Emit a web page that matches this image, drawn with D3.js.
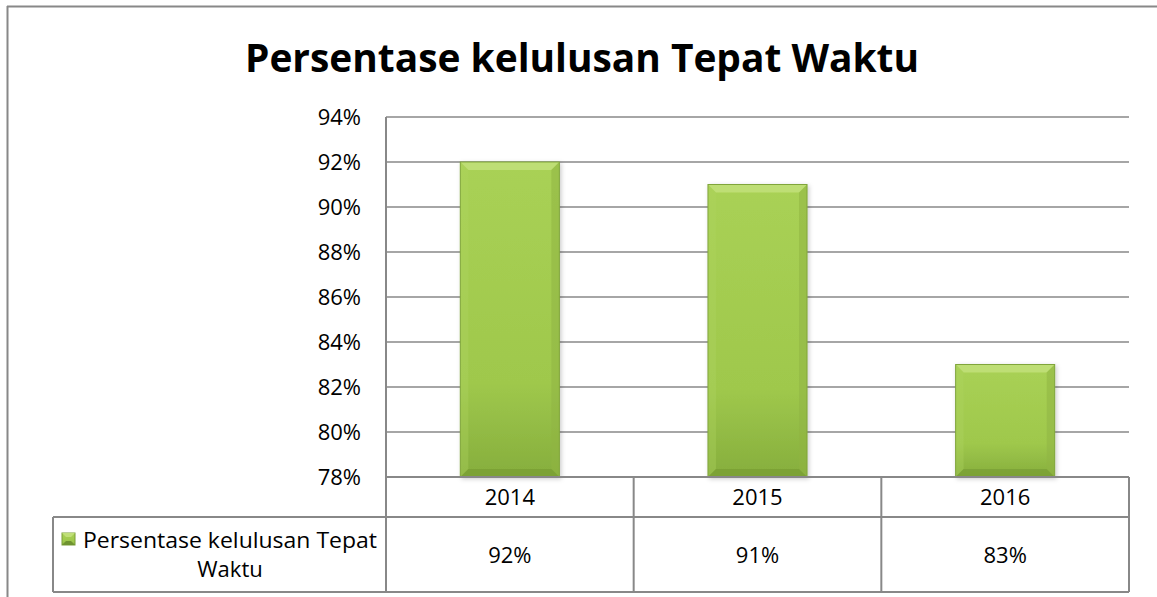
<!DOCTYPE html>
<html>
<head>
<meta charset="utf-8">
<script src="https://cdn.jsdelivr.net/npm/d3@7"></script>
<style>
  body { margin: 0; background: #fff; }
  text { font-family: "Open Sans", "Liberation Sans", sans-serif; fill: #000; }
</style>
</head>
<body>
<div class="chart-wrapper"></div>
<script>
let years = ["2014", "2015", "2016"];
let values = [0.92, 0.91, 0.83];
let legendLines = ["Persentase kelulusan Tepat", "Waktu"];
let yTicks = [0.78, 0.80, 0.82, 0.84, 0.86, 0.88, 0.90, 0.92, 0.94];
let chartTitle = "Persentase kelulusan Tepat Waktu";

let w = 1157;
let h = 597;
let plotLeft = 386;
let plotRight = 1129;
let plotTop = 117;
let plotBottom = 477;
let rowMid = 517;
let tableBottom = 592;
let legendLeft = 53;
let lineColor = "#888888";
let fontSize = 22;

let viz = d3.select(".chart-wrapper")
          .append("svg")
          .attr("width", w)
          .attr("height", h)
;

let defs = viz.append("defs");
// bar face gradient
let grad = defs.append("linearGradient").attr("id", "barFace")
               .attr("x1", 0).attr("y1", 0).attr("x2", 0).attr("y2", 1);
grad.append("stop").attr("offset", "0%").attr("stop-color", "#a9d155");
grad.append("stop").attr("offset", "70%").attr("stop-color", "#9fc84c");
grad.append("stop").attr("offset", "100%").attr("stop-color", "#86ae3d");

let shadow = defs.append("filter").attr("id", "barShadow")
                 .attr("x", "-10%").attr("y", "-10%").attr("width", "130%").attr("height", "130%");
shadow.append("feDropShadow").attr("dx", 1.5).attr("dy", 1.5).attr("stdDeviation", 2)
      .attr("flood-color", "#000").attr("flood-opacity", 0.2);

// outer chart border (top and left only are visible)
viz.append("line").attr("x1", 7).attr("x2", w).attr("y1", 6.5).attr("y2", 6.5)
   .attr("stroke", lineColor).attr("stroke-width", 2);
viz.append("line").attr("x1", 7.5).attr("x2", 7.5).attr("y1", 6).attr("y2", h)
   .attr("stroke", lineColor).attr("stroke-width", 2);

// title
viz.append("text")
   .attr("x", 582)
   .attr("y", 72)
   .attr("text-anchor", "middle")
   .attr("font-size", 40)
   .attr("font-weight", "bold")
   .attr("textLength", 674)
   .attr("lengthAdjust", "spacingAndGlyphs")
   .text(chartTitle);

// scales
let xScale = d3.scaleBand().domain(years).range([plotLeft, plotRight])
               .paddingInner(0.6).paddingOuter(0.3);
let yScale = d3.scaleLinear().domain([0.78, 0.94]).range([plotBottom, plotTop]);

// gridlines
viz.append("g").attr("class", "grid")
   .selectAll("line").data(yTicks).enter().append("line")
   .attr("x1", plotLeft).attr("x2", plotRight)
   .attr("y1", d => yScale(d)).attr("y2", d => yScale(d))
   .attr("stroke", lineColor).attr("stroke-width", 1.5);

// y axis
let yAxis = d3.axisLeft(yScale).tickValues(yTicks).tickSize(0).tickPadding(25)
              .tickFormat(d3.format(".0%"));
let yAxisGroup = viz.append("g")
                    .attr("class", "yaxisgroup")
                    .attr("transform", "translate(" + plotLeft + ",0)");
yAxisGroup.call(yAxis);
yAxisGroup.select(".domain").remove();
yAxisGroup.selectAll("text")
          .attr("font-size", fontSize)
          .attr("font-family", "Open Sans, Liberation Sans, sans-serif")
          .attr("fill", "#000");

// bars with bevel
let bev = 8;
let barGroups = viz.selectAll(".bar").data(years).enter().append("g").attr("class", "bar")
                   .attr("filter", "url(#barShadow)");
barGroups.append("rect")
         .attr("x", d => xScale(d))
         .attr("y", (d, i) => yScale(values[i]))
         .attr("width", xScale.bandwidth())
         .attr("height", (d, i) => plotBottom - yScale(values[i]))
         .attr("fill", "url(#barFace)");
function bevelPath(d, i, side) {
  let x0 = xScale(d), x1 = x0 + xScale.bandwidth();
  let y0 = yScale(values[i]), y1 = plotBottom;
  if (side == "top") return [[x0, y0], [x1, y0], [x1 - bev, y0 + bev], [x0 + bev, y0 + bev]];
  if (side == "left") return [[x0, y0], [x0 + bev, y0 + bev], [x0 + bev, y1 - bev], [x0, y1]];
  if (side == "right") return [[x1, y0], [x1 - bev, y0 + bev], [x1 - bev, y1 - bev], [x1, y1]];
  return [[x0, y1], [x0 + bev, y1 - bev], [x1 - bev, y1 - bev], [x1, y1]];
}
let bevelColors = {top: "#c0df78", left: "#b0d562", right: "#8fb543", bottom: "#789d33"};
let bevelOpacity = {top: 0.9, left: 0.35, right: 0.55, bottom: 0.7};
["top", "left", "right", "bottom"].forEach(function(side) {
  barGroups.append("polygon")
           .attr("points", (d, i) => bevelPath(d, i, side).map(p => p.join(",")).join(" "))
           .attr("fill", bevelColors[side])
           .attr("opacity", bevelOpacity[side]);
});
barGroups.append("rect")
         .attr("x", d => xScale(d))
         .attr("y", (d, i) => yScale(values[i]))
         .attr("width", xScale.bandwidth())
         .attr("height", (d, i) => plotBottom - yScale(values[i]))
         .attr("fill", "none")
         .attr("stroke", "#80a53b")
         .attr("stroke-width", 1);

// data table
let step = xScale.step();
let cellEdges = years.map((d, i) => plotLeft + step * i).concat([plotLeft + step * years.length]);
let tableRight = cellEdges[cellEdges.length - 1];
let table = viz.append("g").attr("class", "table");
table.append("line").attr("x1", plotLeft).attr("x2", tableRight).attr("y1", plotBottom).attr("y2", plotBottom)
     .attr("stroke", lineColor).attr("stroke-width", 2);
table.append("line").attr("x1", legendLeft).attr("x2", tableRight).attr("y1", rowMid).attr("y2", rowMid)
     .attr("stroke", lineColor).attr("stroke-width", 2);
table.append("line").attr("x1", legendLeft).attr("x2", tableRight).attr("y1", tableBottom).attr("y2", tableBottom)
     .attr("stroke", lineColor).attr("stroke-width", 2);
// plot left edge / table divider
table.append("line").attr("x1", plotLeft).attr("x2", plotLeft).attr("y1", plotTop).attr("y2", tableBottom)
     .attr("stroke", lineColor).attr("stroke-width", 2);
table.append("line").attr("x1", legendLeft).attr("x2", legendLeft).attr("y1", rowMid).attr("y2", tableBottom)
     .attr("stroke", lineColor).attr("stroke-width", 2);
table.selectAll(".vdiv").data(cellEdges.slice(1)).enter().append("line").attr("class", "vdiv")
     .attr("x1", d => d).attr("x2", d => d).attr("y1", plotBottom).attr("y2", tableBottom)
     .attr("stroke", lineColor).attr("stroke-width", 2);

table.selectAll(".yearlabel").data(years).enter().append("text").attr("class", "yearlabel")
     .attr("x", (d, i) => cellEdges[i] + step / 2)
     .attr("y", (plotBottom + rowMid) / 2 + 8)
     .attr("text-anchor", "middle")
     .attr("font-size", fontSize)
     .text(d => d);
table.selectAll(".vallabel").data(values).enter().append("text").attr("class", "vallabel")
     .attr("x", (d, i) => cellEdges[i] + step / 2)
     .attr("y", (rowMid + tableBottom) / 2 + 8)
     .attr("text-anchor", "middle")
     .attr("font-size", fontSize)
     .text(d => d3.format(".0%")(d));

// legend key inside table
let key = table.append("g").attr("transform", "translate(62,533)");
key.append("rect").attr("width", 13).attr("height", 12).attr("fill", "url(#barFace)")
   .attr("stroke", "#7a9d38").attr("stroke-width", 1);
key.append("polygon").attr("points", "0,0 13,0 9,4 4,4").attr("fill", "#c0df78");
key.append("polygon").attr("points", "0,12 13,12 9,8 4,8").attr("fill", "#6f9330");
table.selectAll(".legendline").data(legendLines).enter().append("text").attr("class", "legendline")
     .attr("x", 230)
     .attr("y", (d, i) => 548 + i * 29)
     .attr("text-anchor", "middle")
     .attr("font-size", fontSize)
     .attr("textLength", (d, i) => i == 0 ? 294 : null)
     .attr("lengthAdjust", "spacingAndGlyphs")
     .text(d => d);
</script>
</body>
</html>
